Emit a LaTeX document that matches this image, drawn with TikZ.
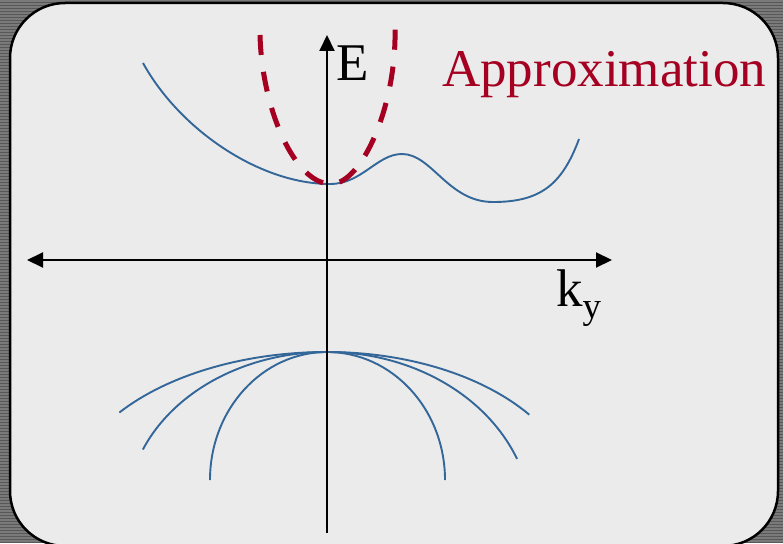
\documentclass[tikz,border=0pt]{standalone}
\usepackage{fontspec}
\setmainfont{Liberation Serif}
\usetikzlibrary{arrows.meta}
\definecolor{bandblue}{RGB}{51,102,153}
\definecolor{approxred}{RGB}{165,0,33}
\definecolor{panel}{RGB}{235,235,235}
\definecolor{framedark}{RGB}{88,88,88}
\definecolor{framelight}{RGB}{122,122,122}

\begin{document}
\begin{tikzpicture}[x=1pt,y=1pt,>={Triangle[length=16pt,width=15pt]},
	band/.style={bandblue,line width=1.9pt},
	approx/.style={approxred,line width=5pt,dash pattern=on 20pt off 17pt},
	axis/.style={black,line width=2pt},
	biglabel/.style={anchor=base west,inner sep=0pt,font=\fontsize{53}{60}\selectfont}]
	\useasboundingbox (0,0) rectangle (783,-543);
	\clip (0,0) rectangle (783,-543);
	% striped frame and panel
	\fill[framedark] (0,0) rectangle (783,-543);
	\foreach \y in {1,4,...,543}
		\draw[framelight,line width=1.2pt] (0,-\y) -- (783,-\y);
	\draw[line width=2.5pt,fill=panel,rounded corners=55pt] (10,-3) rectangle (778,-546);
	% conduction band
	\draw[band] (143,-63) .. controls (180,-130) and (260,-184) .. (330,-184)
		.. controls (362,-184) and (377,-154) .. (402,-154)
		.. controls (432,-154) and (448,-202) .. (493,-202)
		.. controls (540,-202) and (562,-185) .. (579,-139);
	% valence bands
	\coordinate (vtop) at (327,-352);
	\draw[band] (vtop) arc[start angle=90,end angle=143,x radius=260,y radius=152];
	\draw[band] (vtop) arc[start angle=90,end angle=36,x radius=250,y radius=152];
	\draw[band] (vtop) arc[start angle=90,end angle=157,x radius=200,y radius=160];
	\draw[band] (vtop) arc[start angle=90,end angle=22,x radius=205,y radius=171];
	\draw[band] (vtop) arc[start angle=90,end angle=180,x radius=117,y radius=128];
	\draw[band] (vtop) arc[start angle=90,end angle=0,x radius=118,y radius=128];
	% approximation
	\draw[approx] (260,-35) .. controls (262,-110) and (295,-184) .. (331,-184)
		.. controls (362,-184) and (397,-105) .. (395,-27);
	% axes
	\coordinate (ytop) at (327,-35);
	\coordinate (ybot) at (327,-533);
	\coordinate (xleft) at (27,-260);
	\coordinate (xright) at (612,-260);
	\draw[axis,->] (ybot) -- (ytop);
	\draw[axis,<->] (xleft) -- (xright);
	\node[biglabel] (elabel) at (336,-80) {E};
	\node[biglabel,text=approxred] (approxlabel) at (442,-86) {Approximation};
	\node[biglabel] (kylabel) at (556,-306) {k\raisebox{-12pt}{\fontsize{37}{40}\selectfont y}};
\end{tikzpicture}
\end{document}
